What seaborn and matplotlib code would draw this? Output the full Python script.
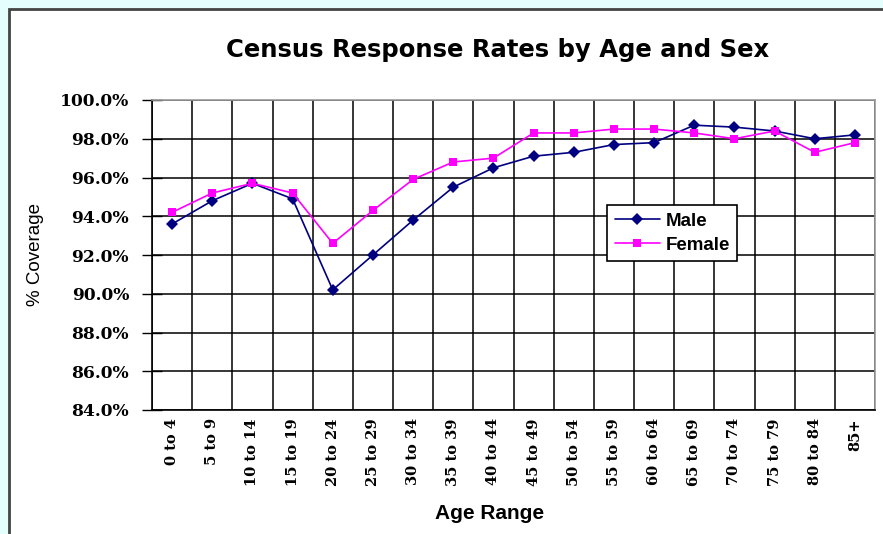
import numpy as np
import pandas as pd
import matplotlib.pyplot as plt
import seaborn as sns
from matplotlib.patches import Rectangle
from matplotlib.ticker import FuncFormatter, MultipleLocator

# 데이터
age_ranges = ["0 to 4", "5 to 9", "10 to 14", "15 to 19", "20 to 24", "25 to 29",
              "30 to 34", "35 to 39", "40 to 44", "45 to 49", "50 to 54", "55 to 59",
              "60 to 64", "65 to 69", "70 to 74", "75 to 79", "80 to 84", "85+"]
male = [93.6, 94.8, 95.7, 94.9, 90.2, 92.0, 93.8, 95.5, 96.5, 97.1, 97.3, 97.7,
        97.8, 98.7, 98.6, 98.4, 98.0, 98.2]
female = [94.2, 95.2, 95.7, 95.2, 92.6, 94.3, 95.9, 96.8, 97.0, 98.3, 98.3, 98.5,
          98.5, 98.3, 98.0, 98.4, 97.3, 97.8]

df = pd.DataFrame({"pos": list(range(len(age_ranges))) * 2,
                   "rate": male + female,
                   "sex": ["Male"] * len(male) + ["Female"] * len(female)})

sns.set_style("white")
plt.rcParams['font.family'] = ['Liberation Sans', 'DejaVu Sans']
plt.rcParams['text.color'] = 'black'
plt.rcParams['axes.labelcolor'] = 'black'
plt.rcParams['xtick.color'] = 'black'
plt.rcParams['ytick.color'] = 'black'

fig = plt.figure(figsize=(8.83, 5.34), dpi=100, facecolor="#E4FEFE")

# 차트 영역 테두리
fig.patches.append(Rectangle((9 / 883, -0.1), 1.2, 1.1 - 9 / 534,
                             transform=fig.transFigure, facecolor="white",
                             edgecolor="#444444", linewidth=2, zorder=-1))

ax = fig.add_axes([152 / 883, 124 / 534, 723 / 883, 310 / 534])
ax.set_facecolor("white")

sns.lineplot(data=df, x="pos", y="rate", hue="sex", style="sex",
             palette={"Male": "#000080", "Female": "#FF00FF"},
             markers={"Male": "D", "Female": "s"}, dashes=False, sort=False,
             markersize=6, linewidth=1.2, markeredgewidth=0, ax=ax, zorder=3)

n = len(age_ranges)
ax.set_xlim(-0.5, n - 0.5)
ax.set_ylim(84, 100)

# 축 눈금
tick_font = {"family": "DejaVu Serif", "weight": "bold"}
ax.set_xticks(range(n))
ax.set_xticklabels(age_ranges, rotation=90, fontsize=10.5, **tick_font)
ax.set_xticks(np.arange(-0.5, n, 1), minor=True)
ax.tick_params(axis="x", which="major", length=0, pad=6)
ax.tick_params(axis="x", which="minor", direction="out", length=8, width=1, color="black")
ax.yaxis.set_major_locator(MultipleLocator(2))
ax.yaxis.set_major_formatter(FuncFormatter(lambda v, p: f"{v:.1f}%"))
ax.tick_params(axis="y", direction="inout", length=15, width=1, color="black", left=True, pad=9)
for lab in ax.get_yticklabels():
    lab.set_fontfamily("DejaVu Serif")
    lab.set_fontweight("bold")
    lab.set_fontsize(12.3)

# 격자
ax.grid(True, axis="y", which="major", color="black", linewidth=1.1)
ax.grid(True, axis="x", which="minor", color="black", linewidth=1.1)
ax.grid(False, axis="x", which="major")
ax.set_axisbelow(True)

for side in ["left", "bottom"]:
    ax.spines[side].set_color("black")
    ax.spines[side].set_linewidth(1.2)
for side in ["top", "right"]:
    ax.spines[side].set_color("#999999")
    ax.spines[side].set_linewidth(1.2)

ax.set_xlabel("")
ax.set_ylabel("% Coverage", fontsize=13.5)
ax.yaxis.set_label_coords(-0.15, 0.5)
ax.text(0.467, -0.333, "Age Range", transform=ax.transAxes, ha="center", va="center",
        fontsize=15, fontweight="bold")

fig.text(498 / 883, 1 - 50 / 534, "Census Response Rates by Age and Sex",
         ha="center", va="center", fontsize=17.5, fontweight="bold",
         fontfamily="DejaVu Sans")

# 범례
leg = ax.legend(loc="upper left", bbox_to_anchor=(0.63, 0.66), frameon=True,
                fancybox=False, edgecolor="black", framealpha=1,
                prop={"weight": "bold", "size": 13.5}, handlelength=2.4,
                borderpad=0.4, labelspacing=0.35, handletextpad=0.3,
                borderaxespad=0)
leg.get_frame().set_linewidth(1.2)
leg.set_zorder(5)

fig.savefig("out.png", dpi=100, facecolor=fig.get_facecolor())
